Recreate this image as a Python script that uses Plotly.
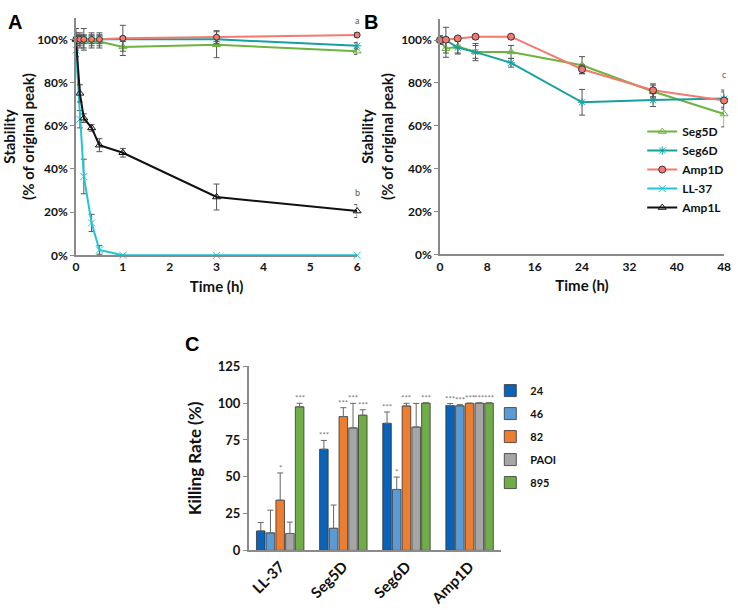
import plotly.graph_objects as go

# ---------------- Data ----------------
# Panel A (short-term stability, hours)
time_a = [0, 0.083, 0.167, 0.333, 0.5, 1, 3, 6]
seg5d_a = [100, 99, 99, 99, 99, 96.5, 97.5, 94.5]
seg5d_a_err = [2, 3, 3, 3, 3, 4, 6, 1.5]
seg6d_a = [100, 100, 100, 100, 100, 100, 100, 97]
seg6d_a_err = [2, 2, 2, 2, 2, 1, 1, 1.5]
amp1d_a = [100, 100, 100, 100, 100, 100.5, 101, 102]
amp1d_a_err = [3, 3, 5, 3, 3, 6, 3, 1]
ll37_a = [95, 63, 36.5, 15, 2.5, 0, 0, 0]
ll37_a_err = [3, 4, 8, 4, 2, 0, 0, 0]
amp1l_a = [100, 75, 63.5, 59, 51, 47.5, 27, 20.5]
amp1l_a_err = [5, 4, 2, 1.5, 3, 2, 6, 3]
ticks_a = [0, 1, 2, 3, 4, 5, 6]

# Panel B (long-term stability, hours)
time_b = [0, 1, 3, 6, 12, 24, 36, 48]
seg5d_b = [100, 96, 97, 94.5, 94.5, 88.3, 76, 65.5]
seg5d_b_err = [2, 4, 3, 3, 3, 4, 3, 6]
seg6d_b = [100, 100, 96.5, 94.4, 89.4, 71, 72, 72.7]
seg6d_b_err = [2, 6, 3, 4, 2, 6, 3, 4]
amp1d_b = [100, 100.2, 100.8, 101.6, 101.6, 86.4, 76.6, 71.8]
amp1d_b_err = [1, 1, 1, 1, 1, 2, 3, 4]
ticks_b = [0, 8, 16, 24, 32, 40, 48]
ticks_pct = [0, 20, 40, 60, 80, 100]

# Panel C (killing rate)
peptides = ["LL-37", "Seg5D", "Seg6D", "Amp1D"]
strains = ["24", "46", "82", "PAOI", "895"]
kill = {
    "24":   [13.2, 68.7, 86.3, 98.4],
    "46":   [11.9, 15.0, 41.4, 98.2],
    "82":   [34.1, 90.9, 98.1, 99.8],
    "PAOI": [11.5, 83.2, 83.8, 100],
    "895":  [97.5, 91.8, 100, 100],
}
kill_err = {
    "24":   [5.7, 6.0, 7.7, 1.3],
    "46":   [15.4, 15.8, 8.4, 0.8],
    "82":   [18.5, 6.0, 1.8, 0.3],
    "PAOI": [7.7, 16.7, 16.0, 0.2],
    "895":  [2.4, 3.7, 0.2, 0.2],
}
signif = {
    "24":   ["", "***", "***", "***"],
    "46":   ["", "", "*", "***"],
    "82":   ["*", "***", "***", "***"],
    "PAOI": ["", "***", "", "***"],
    "895":  ["***", "***", "***", "***"],
}
ticks_c = [0, 25, 50, 75, 100, 125]

# ---------------- Styles ----------------
FONT = "Lato"
C_SEG5D = "#6DB33F"
C_SEG6D = "#17A0A0"
C_AMP1D = "#F47A70"
C_LL37 = "#1FC6D6"
C_AMP1L = "#111111"
bar_colors = {"24": "#0A63B8", "46": "#5B9BD5", "82": "#ED7D31", "PAOI": "#A6A6A6", "895": "#70AD47"}
AXC = "#8a8a8a"


def b(t):
    return f"<b>{t}</b>"


fig = go.Figure()


def err(vals):
    return dict(type="data", array=vals, visible=True, color="#555555", thickness=1, width=3)


def line_trace(x, y, e, name, color, symbol, xa, ya, showlegend, rank, mfill=None, mline=None, size=7):
    return go.Scatter(
        x=x, y=y, name=b(name), mode="lines+markers", xaxis=xa, yaxis=ya,
        line=dict(color=color, width=2),
        marker=dict(symbol=symbol, size=size, color=mfill if mfill else color,
                    line=dict(color=mline if mline else color, width=1)),
        error_y=err(e), showlegend=showlegend, legendrank=rank, legend="legend",
        cliponaxis=False,
    )


# Panel A
fig.add_trace(line_trace(time_a, seg5d_a, seg5d_a_err, "Seg5D", C_SEG5D, "triangle-up-open", "x", "y", False, 1))
fig.add_trace(line_trace(time_a, seg6d_a, seg6d_a_err, "Seg6D", C_SEG6D, "asterisk-open", "x", "y", False, 2))
fig.add_trace(line_trace(time_a, ll37_a, ll37_a_err, "LL-37", C_LL37, "x-thin-open", "x", "y", True, 4))
fig.add_trace(line_trace(time_a, amp1l_a, amp1l_a_err, "Amp1L", C_AMP1L, "triangle-up-open", "x", "y", True, 5))
fig.add_trace(line_trace(time_a, amp1d_a, amp1d_a_err, "Amp1D", C_AMP1D, "circle", "x", "y", False, 3,
                         mfill=C_AMP1D, mline="#333333", size=6))

# Panel B
fig.add_trace(line_trace(time_b, seg5d_b, seg5d_b_err, "Seg5D", C_SEG5D, "triangle-up-open", "x2", "y2", True, 1))
fig.add_trace(line_trace(time_b, seg6d_b, seg6d_b_err, "Seg6D", C_SEG6D, "asterisk-open", "x2", "y2", True, 2))
fig.add_trace(line_trace(time_b, amp1d_b, amp1d_b_err, "Amp1D", C_AMP1D, "circle", "x2", "y2", True, 3,
                         mfill=C_AMP1D, mline="#333333", size=7))

# Panel C
n = len(strains)
bargap = 0.23
bargroupgap = 0.12
slot = (1 - bargap) / n
for i, s in enumerate(strains):
    fig.add_trace(go.Bar(
        x=peptides, y=kill[s], name=b(s), xaxis="x3", yaxis="y3", legend="legend2", legendgroup=s,
        marker=dict(color=bar_colors[s], line=dict(color="#333333", width=0.8)),
        error_y=dict(type="data", array=kill_err[s], arrayminus=[0] * len(peptides),
                     symmetric=False, color="#666666", thickness=1, width=3),
    ))
    off = -(1 - bargap) / 2 + slot * (i + 0.5)
    for j, p in enumerate(peptides):
        if signif[s][j]:
            fig.add_annotation(x=j + off, y=kill[s][j] + kill_err[s][j], xref="x3", yref="y3",
                               text=signif[s][j], showarrow=False, yanchor="bottom", yshift=-2,
                               font=dict(family=FONT, size=8, color="#777777"))

# ---------------- Layout ----------------
tickfont = dict(family=FONT, size=12, color="#111111")
titlefont = dict(family=FONT, size=15, color="#111111")

common_y = dict(showline=True, linecolor=AXC, linewidth=1.5, ticks="outside", tickcolor=AXC, ticklen=4,
                showgrid=False, zeroline=False)
common_x = dict(showline=True, linecolor=AXC, linewidth=1.5, ticks="", showgrid=False, zeroline=False)

fig.update_layout(
    width=738, height=610, margin=dict(l=0, r=0, t=0, b=0),
    paper_bgcolor="white", plot_bgcolor="white",
    font=dict(family=FONT, color="#111111"),
    barmode="group", bargap=bargap, bargroupgap=bargroupgap,
    xaxis=dict(domain=[74 / 738, 359 / 738], range=[0, 6], tickvals=ticks_a,
               ticktext=[b(t) for t in ticks_a], anchor="y", tickfont=tickfont,
               title=dict(text=b("Time (h)"), font=titlefont, standoff=8), **common_x),
    yaxis=dict(domain=[1 - 254 / 610, 1 - 10 / 610], range=[0, 110], tickvals=ticks_pct,
               ticktext=[b(f"{t}%") for t in ticks_pct], anchor="x", tickfont=tickfont,
               title=dict(text=b("Stability<br>(% of original peak)"), font=titlefont, standoff=4), **common_y),
    xaxis2=dict(domain=[443 / 738, 731 / 738], range=[0, 48], tickvals=ticks_b,
                ticktext=[b(t) for t in ticks_b], anchor="y2", tickfont=tickfont,
                title=dict(text=b("Time (h)"), font=titlefont, standoff=8), **common_x),
    yaxis2=dict(domain=[1 - 253 / 610, 1 - 11 / 610], range=[0, 110], tickvals=ticks_pct,
                ticktext=[b(f"{t}%") for t in ticks_pct], anchor="x2", tickfont=tickfont,
                title=dict(text=b("Stability<br>(% of original peak)"), font=titlefont, standoff=4), **common_y),
    xaxis3=dict(domain=[249 / 738, 505 / 738], range=[-0.5, 3.5], anchor="y3", tickangle=-45,
                tickvals=peptides, ticktext=[b(p) for p in peptides],
                tickfont=dict(family=FONT, size=15, color="#111111"), **common_x),
    yaxis3=dict(domain=[1 - 557 / 610, 1 - 368 / 610], range=[0, 125], tickvals=ticks_c,
                ticktext=[b(t) for t in ticks_c], anchor="x3",
                tickfont=dict(family=FONT, size=13, color="#111111"),
                title=dict(text=b("Killing Rate (%)"), font=dict(family=FONT, size=17, color="#111111"),
                           standoff=12), **common_y),
    legend=dict(x=648 / 738, y=1 - 112 / 610, xanchor="left", yanchor="top", bgcolor="rgba(0,0,0,0)",
                font=dict(family=FONT, size=12, color="#111111"), tracegroupgap=0,
                itemwidth=30),
    legend2=dict(x=494 / 738, y=1 - 378 / 610, xanchor="left", yanchor="top", bgcolor="rgba(0,0,0,0)",
                 font=dict(family=FONT, size=11, color="#111111"), tracegroupgap=4,
                 itemwidth=30),
)

# panel letters and labels
for txt, x, y, sz in [("A", 3, 1, 20), ("B", 364, 1, 20), ("C", 182, 332, 20)]:
    fig.add_annotation(text=b(txt), x=x / 738, y=1 - y / 610, xref="paper", yref="paper", showarrow=False,
                       xanchor="left", yanchor="top",
                       font=dict(family="Liberation Sans", size=sz, color="#000000"))

for txt, xa, ya, x, y in [("a", "x", "y", 6, 108.5), ("b", "x", "y", 6, 29), ("c", "x2", "y2", 48, 84)]:
    fig.add_annotation(text=txt, x=x, y=y, xref=xa, yref=ya, showarrow=False,
                       font=dict(family=FONT, size=9, color="#555555"))

fig.write_html("out.html", config={"displayModeBar": False},
               post_script="document.body.style.margin='0';")
